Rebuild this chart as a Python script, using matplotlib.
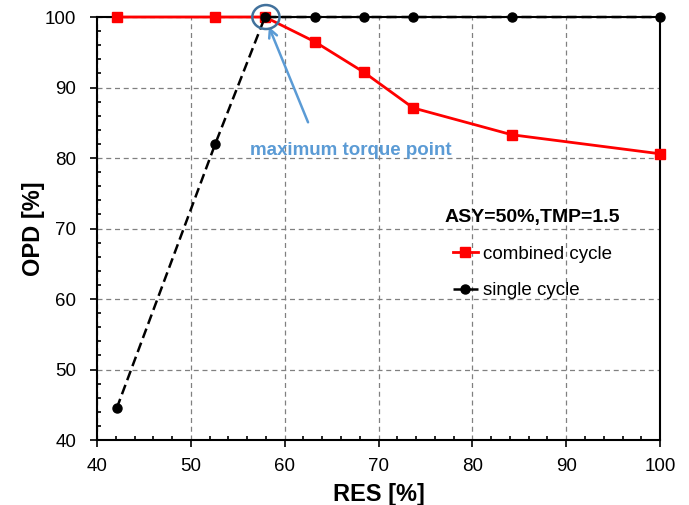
import matplotlib
matplotlib.use("Agg")
import matplotlib.pyplot as plt
from matplotlib.patches import Ellipse
from matplotlib.ticker import MultipleLocator

plt.rcParams['font.family'] = ['Liberation Sans', 'DejaVu Sans']

res = [42.1, 52.6, 57.9, 63.2, 68.4, 73.7, 84.2, 100]
combined = [100, 100, 100, 96.5, 92.2, 87.1, 83.3, 80.6]
single = [44.5, 82, 100, 100, 100, 100, 100, 100]

fig = plt.figure(figsize=(6.89, 5.05), dpi=100)
ax = fig.add_axes([0.1408, 0.1287, 0.8172, 0.8376])

ax.plot(res, combined, color='#FF0000', lw=2, marker='s', ms=7, label='combined cycle', zorder=3, clip_on=False)
ax.plot(res, single, color='black', lw=1.8, ls=(0, (4, 2)), marker='o', ms=6.5, label='single cycle', zorder=4, clip_on=False)

ax.set_xlim(40, 100)
ax.set_ylim(40, 100)
ax.xaxis.set_major_locator(MultipleLocator(10))
ax.yaxis.set_major_locator(MultipleLocator(10))
ax.xaxis.set_minor_locator(MultipleLocator(2))
ax.yaxis.set_minor_locator(MultipleLocator(2))
ax.tick_params(which='major', direction='out', length=5, width=1.2, labelsize=13.5)
ax.tick_params(axis='y', which='major', pad=10)
ax.tick_params(axis='x', which='major', pad=8)
ax.tick_params(which='minor', direction='in', length=3, width=1.2)
ax.grid(True, which='major', color='#808080', ls=(0, (4, 3)), lw=0.9)
for s in ax.spines.values():
    s.set_linewidth(1.5)

ax.set_xlabel('RES [%]', fontsize=17, fontweight='bold', labelpad=6)
ax.set_ylabel('OPD [%]', fontsize=17, fontweight='bold', labelpad=0)

ell = Ellipse((58.0, 100), 2.9, 3.4, fill=False, edgecolor='#41719C', lw=1.8, zorder=5, clip_on=False)
ax.add_patch(ell)
ax.annotate('', xy=(58.2, 99.0), xytext=(62.6, 84.7),
            arrowprops=dict(arrowstyle='->', color='#5B9BD5', lw=1.8, mutation_scale=15))
ax.text(67.0, 81.1, 'maximum torque point', color='#5B9BD5', fontsize=13.5, fontweight='bold', ha='center', va='center')

leg = ax.legend(loc='upper left', bbox_to_anchor=(0.618, 0.545), frameon=False, fontsize=13.5,
                title='ASY=50%,TMP=1.5', title_fontproperties={'weight': 'bold', 'size': 14},
                handlelength=1.3, handletextpad=0.3, labelspacing=1.03, borderaxespad=0, borderpad=0)

fig.savefig('out.png', dpi=100)
